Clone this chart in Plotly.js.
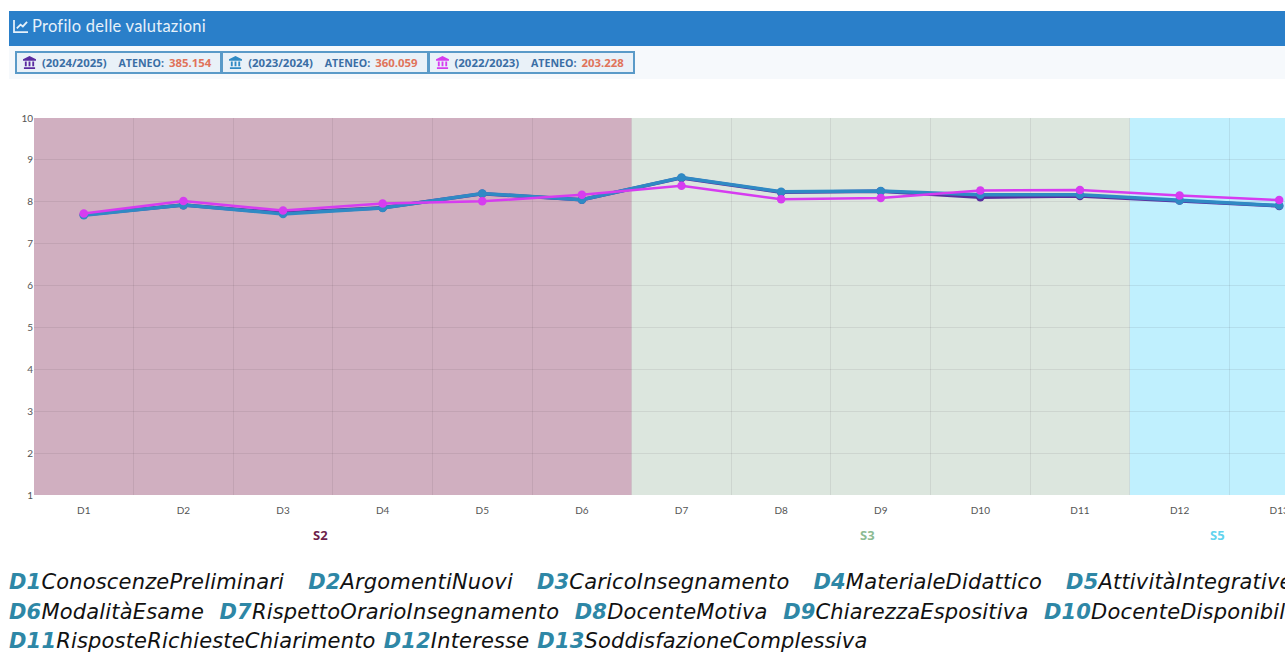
<!DOCTYPE html>
<html><head><meta charset="utf-8">
<script src="https://cdn.plot.ly/plotly-3.0.1.min.js"></script>
<style>
html,body{margin:0;padding:0;background:#fff;width:1285px;height:652px;overflow:hidden;position:relative}
#head{position:absolute;left:9px;top:11px;width:1276px;height:35px;background:#2a7fc9;color:#e6f1fa;font:16.5px/30px Lato,"Open Sans",sans-serif;letter-spacing:.25px;display:flex;align-items:flex-start}
#head svg{margin:8px 3px 0 4px}
#sub{position:absolute;left:9px;top:46px;width:1276px;height:33px;background:#f6f9fc}
#badges{position:absolute;left:15px;top:51px;display:flex;height:23px;font:bold 11.4px "Open Sans",sans-serif;color:#3a6ea5}
.b{border:2px solid #5a9ac8;background:#e9f1f8;display:flex;align-items:center;padding:0 9px 0 6px;box-sizing:border-box;white-space:nowrap;margin-right:-1px}
.b svg{margin-right:6px}
.b small{font-size:10.6px;margin:0 5px 0 12px}
.b em{font-style:normal;color:#e0735a;}
#chart{position:absolute;left:0;top:100px;width:1345px;height:460px}
#notes{position:absolute;left:9px;top:568px;width:1400px;font:italic 21px/29.5px "DejaVu Sans",sans-serif;letter-spacing:.17px;color:#111;white-space:nowrap}
#notes b{color:#2e87a6}
#notes div{height:29.5px}
</style></head><body>
<div id="head"></div><div id="sub"></div><div id="badges"></div>
<div id="chart"></div>
<div id="notes"></div>
<script>
const categories=["D1","D2","D3","D4","D5","D6","D7","D8","D9","D10","D11","D12","D13"];
const y2024=[7.69,7.92,7.73,7.86,8.19,8.05,8.57,8.23,8.25,8.11,8.14,8.03,7.90];
const y2023=[7.68,7.92,7.71,7.85,8.20,8.05,8.58,8.24,8.26,8.17,8.17,8.03,7.91];
const y2022=[7.72,8.02,7.79,7.96,8.01,8.17,8.38,8.06,8.09,8.27,8.28,8.15,8.04];
const seriesNames=["2024/2025","2023/2024","2022/2023"];
const seriesCounts=["385.154","360.059","203.228"];
const seriesColors=["#5a2ca0","#2f8ac4","#d63cf0"];
const groupNames=["S2","S3","S5"];
const groupFirst=[0,6,11];
const groupLast=[5,10,12];
const groupFill=["#d0afc0","#dce6de","#c0f0fe"];
const groupText=["#6e1f4c","#8dbb93","#62d3ee"];
const groupLabelAt=[2.38,7.87,11.38];
const descriptions=["ConoscenzePreliminari","ArgomentiNuovi","CaricoInsegnamento","MaterialeDidattico","AttivitàIntegrative","ModalitàEsame","RispettoOrarioInsegnamento","DocenteMotiva","ChiarezzaEspositiva","DocenteDisponibile","RisposteRichiesteChiarimento","Interesse","SoddisfazioneComplessiva"];
const noteLines=[[0,1,2,3,4],[5,6,7,8,9],[10,11,12]];
const noteGaps=[24,15.5,8];

const bank=c=>`<svg width="13" height="13" viewBox="0 0 14 14"><path fill="${c}" d="M7 0L14 3.5V5H0V3.5ZM1 12H13V14H1ZM2 6H4V11H2ZM6 6H8V11H6ZM10 6H12V11H10Z"/></svg>`;
document.getElementById('head').innerHTML='<svg width="16" height="14" viewBox="0 0 17 15"><path fill="none" stroke="#e6f1fa" stroke-width="1.9" d="M1 1V14H16M4 10L8 6L10.500 8L15 3"/></svg>Profilo delle valutazioni';
document.getElementById('badges').innerHTML=seriesNames.map((n,i)=>`<div class="b">${bank(seriesColors[i])}(${n})<small>ATENEO:</small><em>${seriesCounts[i]}</em></div>`).join('');
document.getElementById('notes').innerHTML=noteLines.map((l,k)=>'<div>'+l.map((i,j)=>`<span style="margin-right:${noteGaps[k]}px"><b>${categories[i]}</b>${descriptions[i]}</span>`).join('')+'</div>').join('');

const trace=(y,i,w,s)=>({type:'scatter',mode:'lines+markers',name:seriesNames[i],x:categories,y:y,line:{color:seriesColors[i],width:w},marker:{color:seriesColors[i],size:s}});
const data=[trace(y2024,0,3.5,8.5),trace(y2023,1,3.5,8.5),trace(y2022,2,2.5,8.5)];
const shapes=groupNames.map((g,i)=>({type:'rect',xref:'x',yref:'paper',x0:groupFirst[i]-0.5,x1:groupLast[i]+0.5,y0:0,y1:1,fillcolor:groupFill[i],line:{width:0},layer:'below'}));
const annotations=groupNames.map((g,i)=>({xref:'x',yref:'paper',x:groupLabelAt[i],y:0,yshift:-40,yanchor:'middle',showarrow:false,text:'<b>'+g+'</b>',font:{family:'"Open Sans",sans-serif',size:13,color:groupText[i]}}));
Plotly.newPlot('chart',data,{
 width:1345,height:460,margin:{l:34,r:16,t:18,b:65},
 paper_bgcolor:'rgba(0,0,0,0)',plot_bgcolor:'rgba(0,0,0,0)',showlegend:false,
 font:{family:'Lato,"Open Sans",sans-serif',size:10,color:'#555'},
 xaxis:{type:'category',tickmode:'array',tickvals:categories,ticktext:categories,tickson:'boundaries',ticks:'',ticklabelstandoff:8,showgrid:true,gridcolor:'rgba(60,40,60,0.09)',gridwidth:1,zeroline:false,showline:false,range:[-0.5,12.5],fixedrange:true,automargin:false,tickfont:{size:10,color:'#555'}},
 yaxis:{range:[1,10],tick0:1,dtick:1,ticks:'',showgrid:true,gridcolor:'rgba(60,40,60,0.09)',gridwidth:1,zeroline:false,showline:false,fixedrange:true,tickfont:{size:10,color:'#555'}},
 shapes:shapes,annotations:annotations
},{displayModeBar:false,staticPlot:true});
</script></body></html>
